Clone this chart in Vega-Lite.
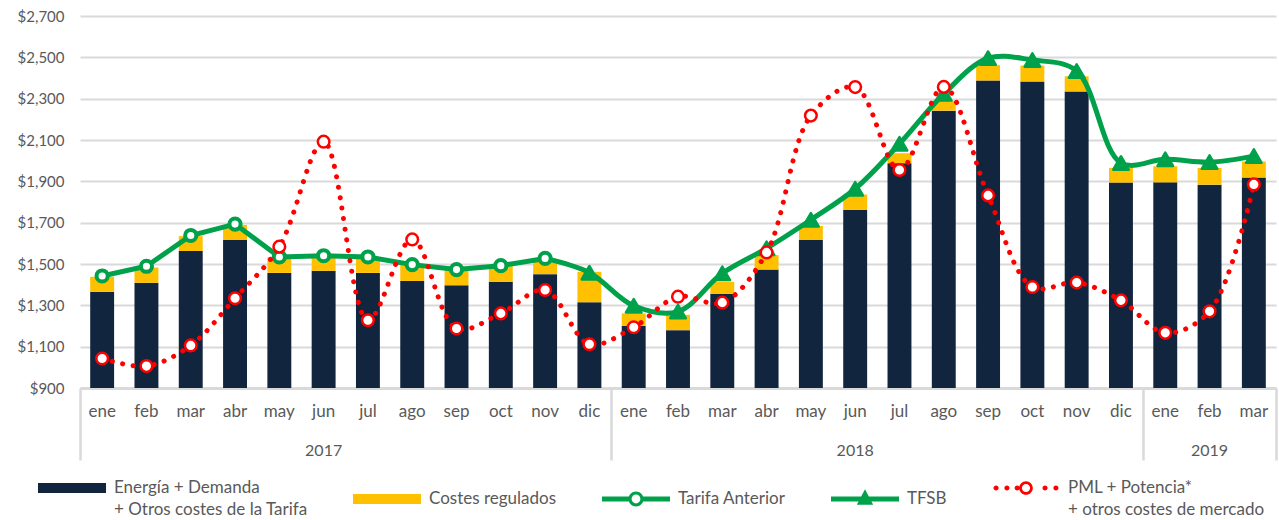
{
  "$schema": "https://vega.github.io/schema/vega-lite/v6.json",
  "width": 1196,
  "height": 372,
  "autosize": {"type": "none"},
  "padding": {"left": 80, "top": 16, "right": 3, "bottom": 132},
  "background": "white",
  "config": {
    "view": {"stroke": null},
    "font": "Lato",
    "style": {"guide-label": {"lineHeight": 22}},
    "axis": {"labelFont": "Lato", "labelColor": "#595959", "labelFontSize": 15, "title": null, "grid": false},
    "axisY": {"grid": true, "gridColor": "#d9d9d9", "gridWidth": 2, "domain": false, "ticks": false, "labelPadding": 16}
  },
  "datasets": {
    "d": [
      {"m": "2017-01", "s": "energia", "v": 1365}, {"m": "2017-01", "s": "costes", "v": 73}, {"m": "2017-01", "s": "tarifa", "v": 1442}, {"m": "2017-01", "s": "pml", "v": 1043},
      {"m": "2017-02", "s": "energia", "v": 1409}, {"m": "2017-02", "s": "costes", "v": 74}, {"m": "2017-02", "s": "tarifa", "v": 1489}, {"m": "2017-02", "s": "pml", "v": 1006},
      {"m": "2017-03", "s": "energia", "v": 1563}, {"m": "2017-03", "s": "costes", "v": 72}, {"m": "2017-03", "s": "tarifa", "v": 1638}, {"m": "2017-03", "s": "pml", "v": 1106},
      {"m": "2017-04", "s": "energia", "v": 1616}, {"m": "2017-04", "s": "costes", "v": 73}, {"m": "2017-04", "s": "tarifa", "v": 1693}, {"m": "2017-04", "s": "pml", "v": 1334},
      {"m": "2017-05", "s": "energia", "v": 1457}, {"m": "2017-05", "s": "costes", "v": 75}, {"m": "2017-05", "s": "tarifa", "v": 1534}, {"m": "2017-05", "s": "pml", "v": 1584},
      {"m": "2017-06", "s": "energia", "v": 1467}, {"m": "2017-06", "s": "costes", "v": 71}, {"m": "2017-06", "s": "tarifa", "v": 1540}, {"m": "2017-06", "s": "pml", "v": 2092},
      {"m": "2017-07", "s": "energia", "v": 1457}, {"m": "2017-07", "s": "costes", "v": 75}, {"m": "2017-07", "s": "tarifa", "v": 1534}, {"m": "2017-07", "s": "pml", "v": 1228},
      {"m": "2017-08", "s": "energia", "v": 1418}, {"m": "2017-08", "s": "costes", "v": 77}, {"m": "2017-08", "s": "tarifa", "v": 1497}, {"m": "2017-08", "s": "pml", "v": 1619},
      {"m": "2017-09", "s": "energia", "v": 1397}, {"m": "2017-09", "s": "costes", "v": 73}, {"m": "2017-09", "s": "tarifa", "v": 1473}, {"m": "2017-09", "s": "pml", "v": 1188},
      {"m": "2017-10", "s": "energia", "v": 1414}, {"m": "2017-10", "s": "costes", "v": 76}, {"m": "2017-10", "s": "tarifa", "v": 1492}, {"m": "2017-10", "s": "pml", "v": 1261},
      {"m": "2017-11", "s": "energia", "v": 1451}, {"m": "2017-11", "s": "costes", "v": 74}, {"m": "2017-11", "s": "tarifa", "v": 1527}, {"m": "2017-11", "s": "tfsb", "v": 1527}, {"m": "2017-11", "s": "pml", "v": 1374},
      {"m": "2017-12", "s": "energia", "v": 1315}, {"m": "2017-12", "s": "costes", "v": 147}, {"m": "2017-12", "s": "tfsb", "v": 1458}, {"m": "2017-12", "s": "pml", "v": 1112},
      {"m": "2018-01", "s": "energia", "v": 1200}, {"m": "2018-01", "s": "costes", "v": 61}, {"m": "2018-01", "s": "tfsb", "v": 1298}, {"m": "2018-01", "s": "pml", "v": 1194},
      {"m": "2018-02", "s": "energia", "v": 1180}, {"m": "2018-02", "s": "costes", "v": 74}, {"m": "2018-02", "s": "tfsb", "v": 1270}, {"m": "2018-02", "s": "pml", "v": 1342},
      {"m": "2018-03", "s": "energia", "v": 1356}, {"m": "2018-03", "s": "costes", "v": 58}, {"m": "2018-03", "s": "tfsb", "v": 1455}, {"m": "2018-03", "s": "pml", "v": 1313},
      {"m": "2018-04", "s": "energia", "v": 1473}, {"m": "2018-04", "s": "costes", "v": 70}, {"m": "2018-04", "s": "tfsb", "v": 1576}, {"m": "2018-04", "s": "pml", "v": 1556},
      {"m": "2018-05", "s": "energia", "v": 1616}, {"m": "2018-05", "s": "costes", "v": 68}, {"m": "2018-05", "s": "tfsb", "v": 1714}, {"m": "2018-05", "s": "pml", "v": 2218},
      {"m": "2018-06", "s": "energia", "v": 1763}, {"m": "2018-06", "s": "costes", "v": 73}, {"m": "2018-06", "s": "tfsb", "v": 1864}, {"m": "2018-06", "s": "pml", "v": 2356},
      {"m": "2018-07", "s": "energia", "v": 1988}, {"m": "2018-07", "s": "costes", "v": 48}, {"m": "2018-07", "s": "tfsb", "v": 2082}, {"m": "2018-07", "s": "pml", "v": 1955},
      {"m": "2018-08", "s": "energia", "v": 2242}, {"m": "2018-08", "s": "costes", "v": 47}, {"m": "2018-08", "s": "tfsb", "v": 2323}, {"m": "2018-08", "s": "pml", "v": 2357},
      {"m": "2018-09", "s": "energia", "v": 2388}, {"m": "2018-09", "s": "costes", "v": 74}, {"m": "2018-09", "s": "tfsb", "v": 2496}, {"m": "2018-09", "s": "pml", "v": 1832},
      {"m": "2018-10", "s": "energia", "v": 2383}, {"m": "2018-10", "s": "costes", "v": 77}, {"m": "2018-10", "s": "tfsb", "v": 2487}, {"m": "2018-10", "s": "pml", "v": 1389},
      {"m": "2018-11", "s": "energia", "v": 2335}, {"m": "2018-11", "s": "costes", "v": 73}, {"m": "2018-11", "s": "tfsb", "v": 2434}, {"m": "2018-11", "s": "pml", "v": 1410},
      {"m": "2018-12", "s": "energia", "v": 1894}, {"m": "2018-12", "s": "costes", "v": 71}, {"m": "2018-12", "s": "tfsb", "v": 1989}, {"m": "2018-12", "s": "pml", "v": 1324},
      {"m": "2019-01", "s": "energia", "v": 1895}, {"m": "2019-01", "s": "costes", "v": 78}, {"m": "2019-01", "s": "tfsb", "v": 2007}, {"m": "2019-01", "s": "pml", "v": 1167},
      {"m": "2019-02", "s": "energia", "v": 1884}, {"m": "2019-02", "s": "costes", "v": 81}, {"m": "2019-02", "s": "tfsb", "v": 1993}, {"m": "2019-02", "s": "pml", "v": 1271},
      {"m": "2019-03", "s": "energia", "v": 1918}, {"m": "2019-03", "s": "costes", "v": 78}, {"m": "2019-03", "s": "tfsb", "v": 2022}, {"m": "2019-03", "s": "pml", "v": 1885}
    ]
  },
  "data": {"name": "d"},
  "resolve": {"axis": {"x": "independent"}},
  "layer": [
    {
      "transform": [{"filter": "datum.s == 'energia' || datum.s == 'costes'"}],
      "mark": {"type": "bar", "width": {"band": 0.54}, "clip": true},
      "encoding": {
        "x": {"field": "m", "type": "ordinal", "scale": {"type": "band", "paddingInner": 0, "paddingOuter": 0},
          "axis": {"orient": "bottom", "labelExpr": "['ene','feb','mar','abr','may','jun','jul','ago','sep','oct','nov','dic'][toNumber(substring(datum.value,5,7))-1]", "labelAngle": 0, "labelFontSize": 17, "ticks": false, "domain": true, "domainColor": "#d9d9d9", "domainWidth": 3, "labelPadding": 15, "title": null}},
        "y": {"field": "v", "type": "quantitative", "scale": {"domain": [900, 2700], "nice": false, "zero": false},
          "axis": {"values": [900, 1100, 1300, 1500, 1700, 1900, 2100, 2300, 2500, 2700], "format": "$,.0f", "title": null}},
        "fill": {"field": "s", "type": "nominal", "legend": null,
          "scale": {"domain": ["energia", "costes"], "range": ["#12253f", "#ffc000"]}},
        "order": {"field": "s", "sort": "descending"}
      }
    },
    {
      "transform": [{"filter": "datum.s == 'tarifa'"}],
      "mark": {"type": "line", "color": "#00a14b", "strokeWidth": 5, "interpolate": "linear"},
      "encoding": {
        "x": {"field": "m", "type": "ordinal", "scale": {"type": "band"},
          "axis": {"orient": "bottom", "values": ["2017-06", "2018-06"], "bandPosition": 1, "labelExpr": "substring(datum.value,0,4)", "labelAngle": 0, "labelFontSize": 16, "ticks": false, "domain": false, "labelPadding": 54, "title": null}},
        "y": {"field": "v", "type": "quantitative"}
      }
    },
    {
      "transform": [{"filter": "datum.s == 'tfsb'"}],
      "mark": {"type": "line", "color": "#00a14b", "strokeWidth": 5, "interpolate": "catmull-rom"},
      "encoding": {
        "x": {"field": "m", "type": "ordinal", "scale": {"type": "band"},
          "axis": {"orient": "bottom", "values": ["2019-02"], "labelExpr": "substring(datum.value,0,4)", "labelAngle": 0, "labelFontSize": 16, "ticks": false, "domain": false, "labelPadding": 54, "title": null}},
        "y": {"field": "v", "type": "quantitative"}
      }
    },
    {
      "transform": [{"filter": "datum.s == 'tarifa'"}],
      "mark": {"type": "point", "shape": "circle", "filled": true, "fill": "white", "stroke": "#00a14b", "strokeWidth": 4, "size": 125, "opacity": 1},
      "encoding": {
        "x": {"field": "m", "type": "ordinal", "scale": {"type": "band"},
          "axis": {"orient": "bottom", "values": ["2017-01", "2018-01", "2019-01"], "bandPosition": 0, "labels": false, "ticks": true, "tickSize": 72, "tickColor": "#d9d9d9", "tickWidth": 2.5, "domain": false, "title": null}},
        "y": {"field": "v", "type": "quantitative"}
      }
    },
    {
      "transform": [{"filter": "datum.s == 'tfsb' && datum.m != '2017-11'"}],
      "mark": {"type": "point", "shape": "triangle-up", "filled": true, "fill": "#00a14b", "stroke": "#00a14b", "strokeWidth": 2.5, "strokeJoin": "round", "size": 240, "opacity": 1},
      "encoding": {
        "x": {"field": "m", "type": "ordinal", "scale": {"type": "band"},
          "axis": {"orient": "bottom", "values": ["2019-03"], "bandPosition": 1, "labels": false, "ticks": true, "tickSize": 72, "tickColor": "#d9d9d9", "tickWidth": 2.5, "domain": false, "title": null}},
        "y": {"field": "v", "type": "quantitative"}
      }
    },
    {
      "transform": [{"filter": "datum.s == 'pml'"}],
      "mark": {"type": "line", "color": "#ff0000", "strokeWidth": 5, "strokeCap": "round", "strokeDash": [0.1, 10.5], "interpolate": "catmull-rom"},
      "encoding": {
        "x": {"field": "m", "type": "ordinal", "scale": {"type": "band"}, "axis": null},
        "y": {"field": "v", "type": "quantitative"}
      }
    },
    {
      "transform": [{"filter": "datum.s == 'pml'"}],
      "mark": {"type": "point", "shape": "circle", "filled": true, "fill": "white", "stroke": "#ff0000", "strokeWidth": 2.5, "size": 135, "opacity": 1},
      "encoding": {
        "x": {"field": "m", "type": "ordinal", "scale": {"type": "band"}, "axis": null},
        "y": {"field": "v", "type": "quantitative"}
      }
    },
    {
      "transform": [{"filter": "false"}],
      "mark": {"type": "point", "filled": true, "opacity": 1, "strokeWidth": 0},
      "encoding": {
        "x": {"field": "m", "type": "ordinal", "scale": {"type": "band"}, "axis": null},
        "y": {"field": "v", "type": "quantitative"},
        "color": {"field": "s", "type": "nominal",
          "scale": {"domain": ["energia", "costes", "tarifa", "tfsb", "pml"], "range": ["#12253f", "#ffc000", "#00a14b", "#00a14b", "#ff0000"]},
          "legend": {"orient": "none", "legendX": -42, "legendY": 438, "direction": "horizontal", "columns": 5, "columnPadding": 45, "symbolSize": 4624, "symbolStrokeWidth": 0, "symbolOpacity": 1, "labelFont": "Lato", "labelFontSize": 17, "labelColor": "#595959", "labelLimit": 400, "labelOffset": 8, "title": null,
            "labelExpr": "datum.value == 'energia' ? ['\u00a0\u00a0\u00a0\u00a0\u00a0Energía + Demanda', '+ Otros costes de la Tarifa'] : datum.value == 'costes' ? 'Costes regulados' : datum.value == 'tarifa' ? 'Tarifa Anterior' : datum.value == 'tfsb' ? 'TFSB' : ['\u00a0\u00a0\u00a0\u00a0\u00a0\u00a0\u00a0\u00a0\u00a0\u00a0\u00a0\u00a0PML + Potencia*', '+ otros costes de mercado']"}},
        "shape": {"field": "s", "type": "nominal",
          "scale": {"domain": ["energia", "costes", "tarifa", "tfsb", "pml"], "range": [
            "M-1,-0.15H1V0.15H-1Z",
            "M-1,-0.15H1V0.15H-1Z",
            "M-1,-0.074H-0.2V0.074H-1Z M0.2,-0.074H1V0.074H0.2Z M0.22,0A0.22,0.22 0 1 1 -0.22,0A0.22,0.22 0 1 1 0.22,0Z M0.13,0A0.13,0.13 0 1 0 -0.13,0A0.13,0.13 0 1 0 0.13,0Z",
            "M-1,-0.074H1V0.074H-1Z M0,-0.29L0.24,0.17H-0.24Z",
            "M-0.805,0A0.075,0.075 0 1 1 -0.955,0A0.075,0.075 0 1 1 -0.805,0Z M-0.485,0A0.075,0.075 0 1 1 -0.635,0A0.075,0.075 0 1 1 -0.485,0Z M-0.185,0A0.075,0.075 0 1 1 -0.335,0A0.075,0.075 0 1 1 -0.185,0Z M0.2,0A0.2,0.2 0 1 1 -0.2,0A0.2,0.2 0 1 1 0.2,0Z M0.12,0A0.12,0.12 0 1 0 -0.12,0A0.12,0.12 0 1 0 0.12,0Z M0.635,0A0.075,0.075 0 1 1 0.485,0A0.075,0.075 0 1 1 0.635,0Z M0.955,0A0.075,0.075 0 1 1 0.805,0A0.075,0.075 0 1 1 0.955,0Z"
          ]},
          "legend": {"orient": "none", "legendX": -42, "legendY": 438, "direction": "horizontal", "columns": 5, "columnPadding": 45, "symbolSize": 4624, "symbolStrokeWidth": 0, "symbolOpacity": 1, "labelFont": "Lato", "labelFontSize": 17, "labelColor": "#595959", "labelLimit": 400, "labelOffset": 8, "title": null,
            "labelExpr": "datum.value == 'energia' ? ['\u00a0\u00a0\u00a0\u00a0\u00a0Energía + Demanda', '+ Otros costes de la Tarifa'] : datum.value == 'costes' ? 'Costes regulados' : datum.value == 'tarifa' ? 'Tarifa Anterior' : datum.value == 'tfsb' ? 'TFSB' : ['\u00a0\u00a0\u00a0\u00a0\u00a0\u00a0\u00a0\u00a0\u00a0\u00a0\u00a0\u00a0PML + Potencia*', '+ otros costes de mercado']"}}
      }
    }
  ]
}
